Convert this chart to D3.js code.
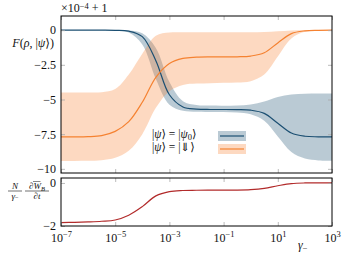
<!DOCTYPE html>
<html>
<head>
<meta charset="utf-8">
<script src="https://cdn.jsdelivr.net/npm/d3@7"></script>
<style>
body { margin: 0; background: #fff; }
svg { display: block; }
.axis path { display: none; }
.axis line { stroke: #aaa; stroke-width: 0.8; }
</style>
</head>
<body>
<div id="chart"></div>
<script>
const gammaExp = [-7, -6.5, -6, -5.5, -5, -4.5, -4, -3.5, -3, -2.5, -2, -1.5, -1, -0.5, 0, 0.5, 1, 1.5, 2, 2.5, 3];

// |psi> = |psi_0>  (in units of 1e-4, offset +1)
const psi0Mean  = [0, 0, 0, 0, -0.01, -0.07, -0.47, -2.20, -4.66, -5.54, -5.69, -5.72, -5.72, -5.73, -5.77, -6.00, -6.71, -7.42, -7.65, -7.69, -7.70];
const psi0Upper = [0, 0, 0, 0, 0, -0.03, -0.23, -1.29, -3.74, -5.12, -5.40, -5.44, -5.45, -5.43, -5.36, -5.14, -4.82, -4.64, -4.59, -4.57, -4.57];
const psi0Lower = [0, 0, 0, 0, -0.02, -0.17, -1.03, -3.52, -5.38, -5.82, -5.89, -5.90, -5.90, -5.94, -6.07, -6.54, -7.67, -8.79, -9.26, -9.39, -9.42];

// |psi> = |down>
const downMean  = [-7.70, -7.70, -7.68, -7.60, -7.30, -6.60, -5.20, -3.40, -2.40, -2.03, -1.95, -1.93, -1.93, -1.92, -1.87, -1.63, -0.92, -0.25, -0.05, -0.01, 0];
const downUpper = [-4.50, -4.50, -4.50, -4.48, -4.25, -3.20, -1.70, -0.40, -0.17, -0.15, -0.15, -0.15, -0.15, -0.15, -0.15, -0.13, -0.08, -0.02, 0, 0, 0];
const downLower = [-9.43, -9.43, -9.42, -9.38, -9.20, -8.70, -7.50, -5.60, -4.40, -3.95, -3.85, -3.82, -3.80, -3.78, -3.68, -3.20, -1.90, -0.60, -0.12, -0.02, 0];

// lower panel: N/gamma_- dW_B/dt
const rateVals = [-1.84, -1.83, -1.81, -1.78, -1.72, -1.50, -1.10, -0.60, -0.40, -0.35, -0.34, -0.33, -0.33, -0.33, -0.31, -0.25, -0.13, -0.03, 0, 0, 0];

const xTickExp = [-7, -5, -3, -1, 1, 3];
const topYTicks = [0, -2.5, -5, -7.5, -10];
const botYTicks = [0, -2];

const W = 346, H = 255;
const left = 61, right = 332;
const top1 = 16, bot1 = 173;
const top2 = 178, bot2 = 226;

const blue = "#1b4f72", orange = "#f58231", red = "#b22b2b";
const blueBand = "rgba(27,79,114,0.3)", orangeBand = "rgba(250,130,50,0.3)";
const serif = "'Liberation Serif', 'Times New Roman', 'DejaVu Serif', serif";
const fsTick = 12, fsSup = 8.5;

const svg = d3.select("#chart").append("svg")
    .attr("width", W)
    .attr("height", H);

const x = d3.scaleLog().domain([1e-7, 1e3]).range([left, right]);
const y1 = d3.scaleLinear().domain([-10.3, 1.02]).range([bot1, top1]);
const y2 = d3.scaleLinear().domain([-2, 0.23]).range([bot2, top2]);

const gam = gammaExp.map(e => Math.pow(10, e));
function rows(mean, lo, hi) {
    return gam.map((g, i) => ({g: g, m: mean ? mean[i] : null, lo: lo ? lo[i] : null, hi: hi ? hi[i] : null}));
}

const curve = d3.curveCatmullRom.alpha(0.5);

function band(yS) {
    return d3.area().curve(curve).x(d => x(d.g)).y0(d => yS(d.lo)).y1(d => yS(d.hi));
}
function line(yS) {
    return d3.line().curve(curve).x(d => x(d.g)).y(d => yS(d.m));
}

// ---- top panel ----
const p1 = svg.append("g");
p1.append("path").datum(rows(null, psi0Lower, psi0Upper))
    .attr("d", band(y1)).attr("fill", blueBand);
p1.append("path").datum(rows(null, downLower, downUpper))
    .attr("d", band(y1)).attr("fill", orangeBand);
p1.append("path").datum(rows(psi0Mean))
    .attr("d", line(y1)).attr("fill", "none").attr("stroke", blue).attr("stroke-width", 1.2);
p1.append("path").datum(rows(downMean))
    .attr("d", line(y1)).attr("fill", "none").attr("stroke", orange).attr("stroke-width", 1.2);

// ---- bottom panel ----
svg.append("path").datum(rows(rateVals))
    .attr("d", line(y2)).attr("fill", "none").attr("stroke", red).attr("stroke-width", 1.2);

// ---- axes (pgfplots style: ticks pointing inward) ----
const xTicks = xTickExp.map(e => Math.pow(10, e));
function xAx(axisFn, yPos) {
    return svg.append("g").attr("class", "axis")
        .attr("transform", `translate(0,${yPos})`)
        .call(axisFn(x).tickValues(xTicks).tickSize(-4).tickFormat(""));
}
xAx(d3.axisBottom, bot1);
xAx(d3.axisTop, top1);
xAx(d3.axisTop, top2);
const xb = xAx(d3.axisBottom, bot2);
xb.call(d3.axisBottom(x).tickValues(xTicks).tickSize(-4).tickPadding(8).tickFormat(""));
xb.selectAll(".tick text").each(function(d) {
    const t = d3.select(this).attr("font-size", fsTick).attr("text-anchor", "middle").attr("dy", "0.68em");
    t.text(null);
    t.append("tspan").text("10");
    t.append("tspan").attr("dy", -5).attr("font-size", fsSup).text(String(Math.round(Math.log10(d))).replace("-", "\u2212"));
});

function yAx(yS, ticks, fmt) {
    svg.append("g").attr("class", "axis")
        .attr("transform", `translate(${left},0)`)
        .call(d3.axisLeft(yS).tickValues(ticks).tickSize(-4).tickPadding(5).tickFormat(fmt))
        .selectAll("text").attr("font-size", fsTick);
    svg.append("g").attr("class", "axis")
        .attr("transform", `translate(${right},0)`)
        .call(d3.axisRight(yS).tickValues(ticks).tickSize(-4).tickFormat(""));
}
yAx(y1, topYTicks, d3.format(""));
yAx(y2, botYTicks, d3.format(""));

// frames
svg.append("rect").attr("x", left).attr("y", top1).attr("width", right - left).attr("height", bot1 - top1)
    .attr("fill", "none").attr("stroke", "#000").attr("stroke-width", 1);
svg.append("rect").attr("x", left).attr("y", top2).attr("width", right - left).attr("height", bot2 - top2)
    .attr("fill", "none").attr("stroke", "#000").attr("stroke-width", 1);

// ---- labels ----
const off = svg.append("text").attr("x", 61).attr("y", 12).attr("font-size", fsTick);
off.append("tspan").text("\u00d710");
off.append("tspan").attr("dy", -3.5).attr("font-size", fsSup).text("\u22124");
off.append("tspan").attr("dy", 3.5).text(" + 1");

const yl = svg.append("text").attr("x", 54).attr("y", 47).attr("text-anchor", "end").attr("font-size", 12);
yl.append("tspan").attr("font-style", "italic").text("F");
yl.append("tspan").text("(");
yl.append("tspan").attr("font-style", "italic").text("\u03c1");
yl.append("tspan").text(", |");
yl.append("tspan").attr("font-style", "italic").text("\u03c8");
yl.append("tspan").text("\u27e9)");

// lower y label: N/gamma_-  dW_B/dt
const fs = 9;
function frac(cx, x0, x1, num, den) {
    const n = svg.append("text").attr("x", cx).attr("y", 189).attr("text-anchor", "middle").attr("font-size", fs);
    num(n);
    svg.append("line").attr("x1", x0).attr("x2", x1).attr("y1", 191).attr("y2", 191)
        .attr("stroke", "#111").attr("stroke-width", 0.6);
    const dd = svg.append("text").attr("x", cx).attr("y", 198.5).attr("text-anchor", "middle").attr("font-size", fs);
    den(dd);
}
frac(15, 8, 22,
    t => t.append("tspan").attr("font-style", "italic").text("N"),
    t => { t.append("tspan").attr("font-style", "italic").text("\u03b3");
           t.append("tspan").attr("font-size", 6.5).attr("dy", 1.5).text("\u2212"); });
frac(37, 25, 49,
    t => { t.append("tspan").text("\u2202");
           t.append("tspan").attr("font-style", "italic").text("W");
           t.append("tspan").attr("font-size", 6.5).attr("dy", 1.5).attr("font-style", "italic").text("B"); },
    t => { t.append("tspan").text("\u2202");
           t.append("tspan").attr("font-style", "italic").text("t"); });
// bar over W
svg.append("line").attr("x1", 33).attr("x2", 40.5).attr("y1", 181.5).attr("y2", 181.5)
    .attr("stroke", "#111").attr("stroke-width", 0.5);

const xl = svg.append("text").attr("x", 298).attr("y", 249).attr("font-size", 12);
xl.append("tspan").attr("font-style", "italic").text("\u03b3");
xl.append("tspan").attr("font-size", 8.5).attr("dy", 2).text("\u2212");

// ---- legend ----
const legend = [
    {lab: ["|", "\u03c8", "\u27e9 = |", "\u03c8", "0", "\u27e9"], line: blue, fill: blueBand, y: 137},
    {lab: ["|", "\u03c8", "\u27e9 = |\u21d3\u27e9"], line: orange, fill: orangeBand, y: 150}
];
legend.forEach(l => {
    const t = svg.append("text").attr("x", 152).attr("y", l.y + 0.5).attr("font-size", 11.5);
    l.lab.forEach((s, i) => {
        const sp = t.append("tspan").text(s);
        if (s === "\u03c8") sp.attr("font-style", "italic");
        if (s === "0") { sp.attr("font-size", 8.5).attr("dy", 2); }
        if (i > 0 && l.lab[i - 1] === "0") sp.attr("dy", -2);
    });
    svg.append("rect").attr("x", 218).attr("y", l.y - 6).attr("width", 28).attr("height", 10).attr("fill", l.fill);
    svg.append("line").attr("x1", 220).attr("x2", 244).attr("y1", l.y - 1).attr("y2", l.y - 1)
        .attr("stroke", l.line).attr("stroke-width", 1.2);
});

svg.selectAll("text").style("font-family", serif).style("fill", "#111");
</script>
</body>
</html>
